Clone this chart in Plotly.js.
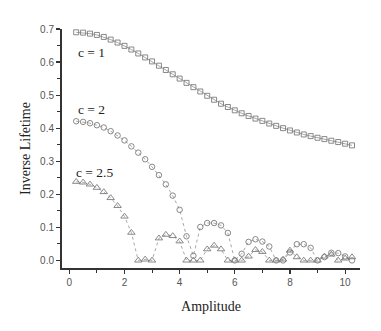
<!DOCTYPE html>
<html>
<head>
<meta charset="utf-8">
<script src="https://cdn.plot.ly/plotly-3.0.1.min.js"></script>
<style>
  html, body { margin: 0; padding: 0; background: #fff; }
  #plot { width: 381px; height: 331px; }
</style>
</head>
<body>
<div id="plot"></div>
<script>
const amplitude = [0.25, 0.5, 0.75, 1.0, 1.25, 1.5, 1.75, 2.0, 2.25, 2.5,
		   2.75, 3.0, 3.25, 3.5, 3.75, 4.0, 4.25, 4.5, 4.75, 5.0,
		   5.25, 5.5, 5.75, 6.0, 6.25, 6.5, 6.75, 7.0, 7.25, 7.5,
		   7.75, 8.0, 8.25, 8.5, 8.75, 9.0, 9.25, 9.5, 9.75, 10.0, 10.25];

const lifetime_c1 = [0.690, 0.689, 0.686, 0.682, 0.676, 0.668, 0.659, 0.649, 0.638, 0.626,
		     0.614, 0.602, 0.589, 0.576, 0.563, 0.550, 0.537, 0.524, 0.511, 0.498,
		     0.486, 0.474, 0.464, 0.454, 0.445, 0.437, 0.429, 0.422, 0.414, 0.407,
		     0.400, 0.393, 0.387, 0.381, 0.376, 0.371, 0.367, 0.362, 0.358, 0.353, 0.348];

const lifetime_c2 = [0.421, 0.419, 0.415, 0.409, 0.402, 0.391, 0.378, 0.363, 0.345, 0.326,
		     0.306, 0.283, 0.258, 0.230, 0.196, 0.153, 0.073, 0.014, 0.101, 0.113,
		     0.113, 0.106, 0.083, 0.000, 0.020, 0.056, 0.064, 0.057, 0.042, 0.000,
		     0.000, 0.024, 0.049, 0.049, 0.038, 0.000, 0.010, 0.023, 0.022, 0.012, 0.000];

const lifetime_c25 = [0.238, 0.236, 0.230, 0.220, 0.207, 0.189, 0.165, 0.133, 0.084, 0.000,
		      0.003, 0.000, 0.067, 0.078, 0.074, 0.058, 0.000, 0.000, 0.000, 0.034,
		      0.045, 0.034, 0.000, 0.000, 0.000, 0.012, 0.032, 0.026, 0.000, 0.000,
		      0.003, 0.030, 0.010, 0.000, 0.000, 0.000, 0.012, 0.018, 0.000, 0.006, 0.010];

const series_labels = ["c = 1", "c = 2", "c = 2.5"];
// where each label sits, in data units
const label_x = [0.82, 0.80, 0.93];
const label_y = [0.630, 0.457, 0.267];

const GREY = "#7c7c7c";

function build_trace(yvals, symbol, size, dash)
{
    // open symbols take their outline colour from marker.color
    return { x : amplitude,
	     y : yvals,
	     type : "scatter",
	     mode : "lines+markers",
	     line : {color : "#909090", width : 0.8, dash : dash},
	     marker : {symbol : symbol,
		       size : size,
		       color : GREY,
		       line : {width : 0.9}},
	     showlegend : false,
	     hoverinfo : "skip"};
}

const data = [build_trace(lifetime_c1, "square-open", 5, "solid"),
	      build_trace(lifetime_c2, "circle-open", 5.5, "dot"),
	      build_trace(lifetime_c25, "triangle-up-open", 6.5, "dot")];

const annotations = series_labels.map(function (txt, i) {
    return { x : label_x[i], y : label_y[i],
	     xref : "x", yref : "y",
	     text : txt, showarrow : false,
	     xanchor : "center", yanchor : "middle",
	     font : {family : "Liberation Serif, Times New Roman, serif", size : 13.5, color : "#222"}};
});

const tickfont = {family : "Liberation Sans, Arial, sans-serif", size : 10, color : "#555"};
const titlefont = {family : "Liberation Serif, Times New Roman, serif", size : 14, color : "#222"};

const layout = {
    width : 381,
    height : 331,
    paper_bgcolor : "#fff",
    plot_bgcolor : "#fff",
    margin : {l : 62, r : 21, t : 29, b : 63, pad : 0},
    xaxis : {range : [-0.265, 10.54],
	     dtick : 2, tick0 : 0,
	     ticks : "outside", ticklen : 4, tickwidth : 1.2, tickcolor : "#333",
	     minor : {dtick : 1, ticks : "outside", ticklen : 3, tickcolor : "#333", tickwidth : 1},
	     showline : true, linecolor : "#333", linewidth : 2,
	     showgrid : false, zeroline : false,
	     tickfont : tickfont,
	     title : {text : "Amplitude", font : titlefont, standoff : 14}},
    yaxis : {range : [-0.023, 0.70],
	     dtick : 0.1, tick0 : 0, tickformat : ".1f",
	     ticks : "outside", ticklen : 4, tickwidth : 1.2, tickcolor : "#333",
	     minor : {dtick : 0.05, ticks : "outside", ticklen : 3, tickcolor : "#333", tickwidth : 1},
	     showline : true, linecolor : "#333", linewidth : 2,
	     showgrid : false, zeroline : false,
	     tickfont : tickfont,
	     title : {text : "Inverse Lifetime", font : titlefont, standoff : 6}},
    annotations : annotations
};

Plotly.newPlot("plot", data, layout, {staticPlot : true, displayModeBar : false});
</script>
</body>
</html>
